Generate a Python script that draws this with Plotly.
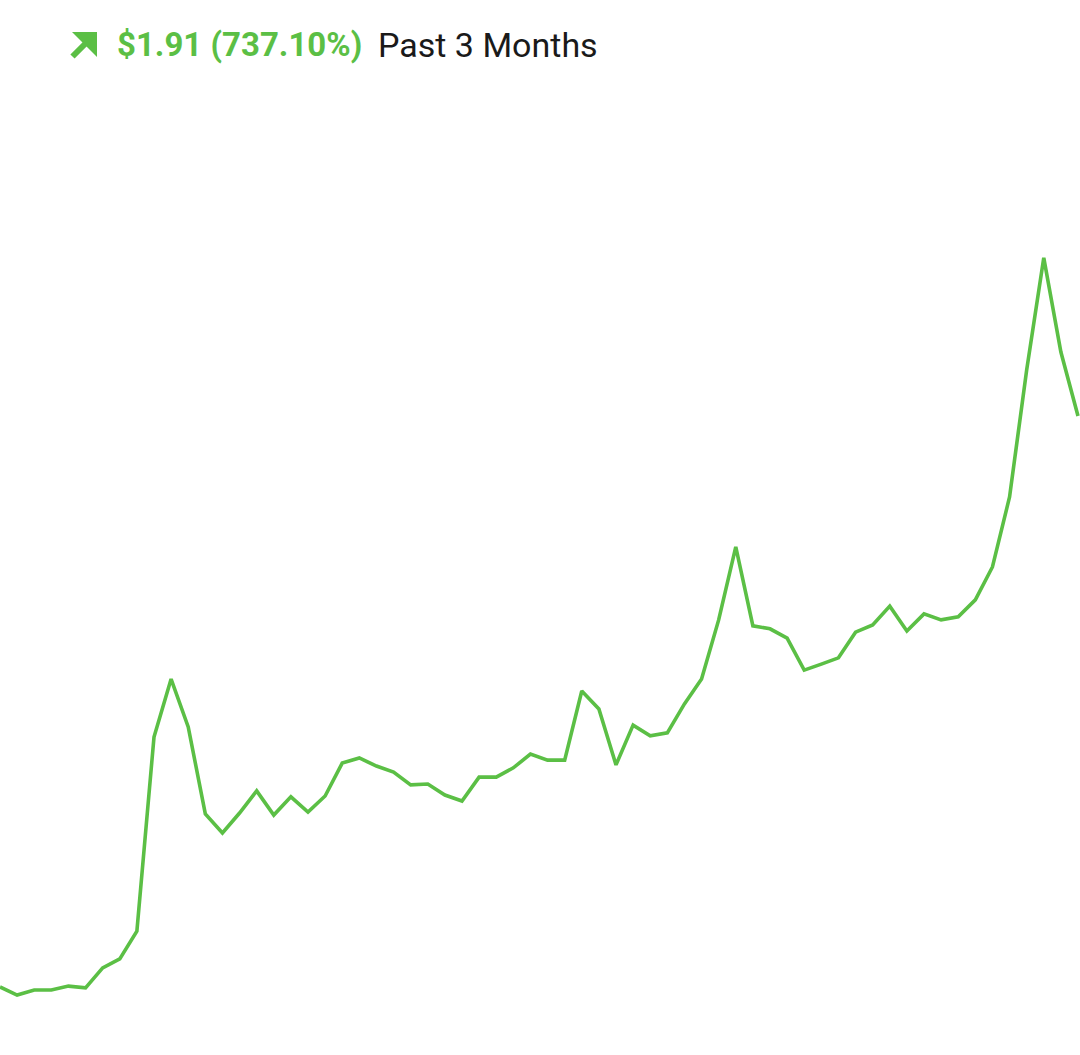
import plotly.graph_objects as go

# Price values (USD), one per trading day, past 3 months
day_index = list(range(64))
price = [
    0.259, 0.232, 0.249, 0.249, 0.262, 0.256, 0.323, 0.353, 0.446, 1.095,
    1.289, 1.129, 0.838, 0.774, 0.841, 0.915, 0.834, 0.895, 0.844, 0.898,
    1.008, 1.025, 0.998, 0.978, 0.935, 0.938, 0.901, 0.881, 0.961, 0.961,
    0.992, 1.038, 1.018, 1.018, 1.249, 1.189, 1.002, 1.135, 1.099, 1.109,
    1.206, 1.289, 1.487, 1.731, 1.467, 1.457, 1.426, 1.319, 1.339, 1.360,
    1.446, 1.470, 1.533, 1.450, 1.507, 1.487, 1.497, 1.554, 1.664, 1.898,
    2.323, 2.698, 2.383, 2.169,
]
change_text = "$1.91 (737.10%)"
period_text = "Past 3 Months"

GREEN = "#5BBF45"
W, H = 1080, 1055

fig = go.Figure()
fig.add_trace(go.Scatter(
    x=day_index, y=price, mode="lines",
    line=dict(color=GREEN, width=3.6),
    hoverinfo="skip", showlegend=False,
))

def px(x):
    return x / W

def py(y):
    return 1 - y / H

# arrow icon
fig.add_shape(type="path", xref="paper", yref="paper",
              path=f"M {px(72)} {py(32)} L {px(97)} {py(32)} L {px(97)} {py(57)} Z",
              fillcolor=GREEN, line=dict(width=0))
fig.add_shape(type="line", xref="paper", yref="paper",
              x0=px(72.5), y0=py(56.5), x1=px(90), y1=py(39),
              line=dict(color=GREEN, width=6))

fig.add_annotation(
    xref="paper", yref="paper", x=px(115), y=py(45),
    xanchor="left", yanchor="middle", showarrow=False,
    text=f"<b>{change_text}</b>",
    font=dict(family="Roboto, Inter, sans-serif", size=33, color=GREEN),
)
fig.add_annotation(
    xref="paper", yref="paper", x=px(376), y=py(45),
    xanchor="left", yanchor="middle", showarrow=False,
    text=period_text,
    font=dict(family="Roboto, Inter, sans-serif", size=34, color="#1a1a1a"),
)

fig.update_layout(
    width=W, height=H,
    margin=dict(l=0, r=0, t=0, b=0),
    paper_bgcolor="white", plot_bgcolor="white",
    xaxis=dict(visible=False, range=[0, 63 * W / 1078], fixedrange=True),
    yaxis=dict(visible=False, range=[0.0315, 3.5605], fixedrange=True),
)

fig.write_html("out.html", config={"displayModeBar": False},
               post_script="document.body.style.margin='0';document.body.style.overflow='hidden';")
